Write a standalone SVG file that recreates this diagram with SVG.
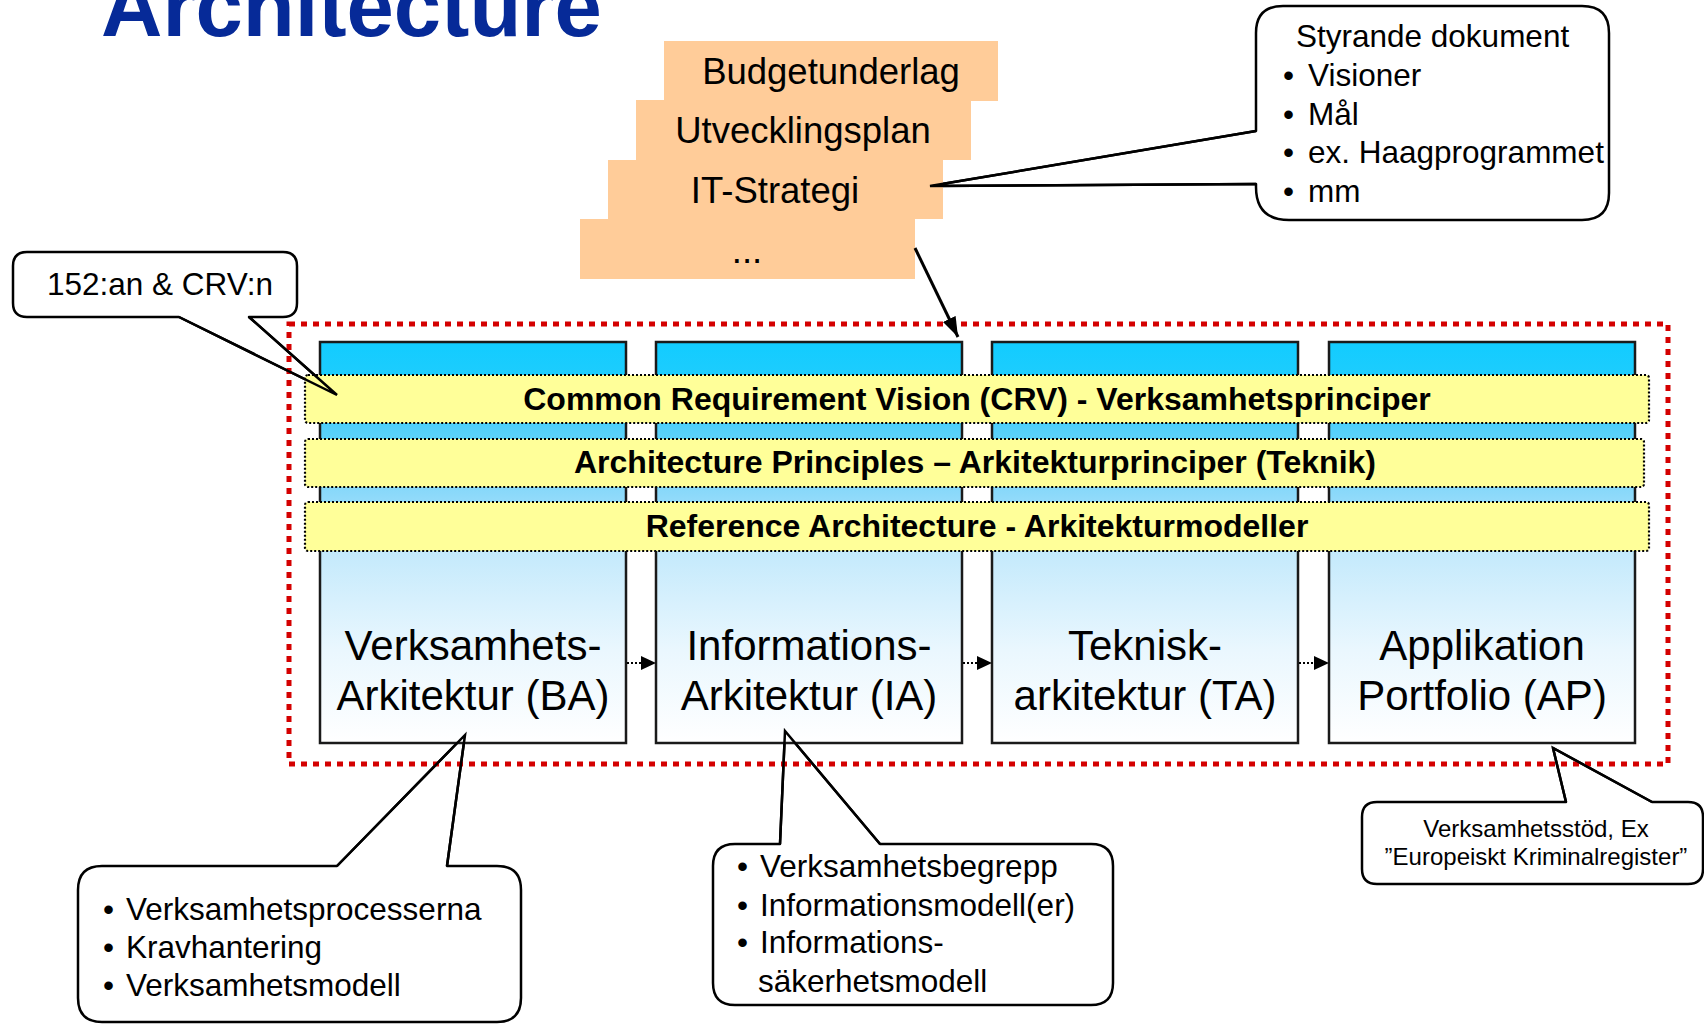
<svg xmlns="http://www.w3.org/2000/svg" width="1704" height="1024" viewBox="0 0 1704 1024">
<style>
text{font-family:"Liberation Sans",Arial,sans-serif;fill:#000}
.title{font-size:85px;font-weight:bold;fill:#062A98}
.doc{font-size:36.5px;text-anchor:middle}
.band-t{font-size:32px;font-weight:bold;text-anchor:middle}
.col-t{font-size:42px;text-anchor:middle}
.t31{font-size:31.5px}
.t24{font-size:24px;text-anchor:middle}
.callout{fill:#fff;stroke:#000;stroke-width:2.5;stroke-linejoin:round}
.ptr{fill:none;stroke:#000;stroke-width:2.5;stroke-linejoin:miter}
.orange{fill:#FFCC99}
.col{fill:url(#colGrad);stroke:#1a1a1a;stroke-width:2.5}
.band{fill:#FFFF99;stroke:#000;stroke-width:2.2;stroke-dasharray:2 2}
.frame{fill:none;stroke:#D40000;stroke-width:5;stroke-dasharray:6 6}
.dotline{stroke:#000;stroke-width:2;stroke-dasharray:2 2;fill:none}
</style>
<defs>
<linearGradient id="colGrad" gradientUnits="userSpaceOnUse" x1="0" y1="342" x2="0" y2="743">
<stop offset="0" stop-color="#12CCFF"/>
<stop offset="0.12" stop-color="#22CDFD"/>
<stop offset="0.22" stop-color="#55D0FA"/>
<stop offset="0.38" stop-color="#8CD9FA"/>
<stop offset="0.53" stop-color="#C5EAFC"/>
<stop offset="0.77" stop-color="#EAF7FE"/>
<stop offset="1" stop-color="#FFFFFF"/>
</linearGradient>
<marker id="arrow" markerWidth="20" markerHeight="14" refX="20" refY="7" orient="auto" markerUnits="userSpaceOnUse">
<path d="M0,0 L20,7 L0,14 Z" fill="#000"/>
</marker>
</defs>

<text class="title" x="101" y="36">Architecture</text>

<!-- callouts (bodies) -->
<g id="callout-styrande">
<path class="callout" d="M1283,6 H1582 Q1609,6 1609,33 V193 Q1609,220 1582,220 H1289 Q1256,220 1256,187 V184 L930,186 L1256,131 V33 Q1256,6 1283,6 Z"/>
<text class="t31" x="1296" y="47">Styrande dokument</text>
<text class="t31" x="1283" y="86">•</text><text class="t31" x="1308" y="86">Visioner</text>
<text class="t31" x="1283" y="125">•</text><text class="t31" x="1308" y="125">Mål</text>
<text class="t31" x="1283" y="163">•</text><text class="t31" x="1308" y="163">ex. Haagprogrammet</text>
<text class="t31" x="1283" y="202">•</text><text class="t31" x="1308" y="202">mm</text>
</g>
<g id="callout-152">
<path class="callout" d="M27,252 H283 Q297,252 297,266 V303 Q297,317 283,317 H249 L337,395 L179,317 H27 Q13,317 13,303 V266 Q13,252 27,252 Z"/>
<text class="t31" x="47" y="295">152:an &amp; CRV:n</text>
</g>
<g id="callout-ba">
<path class="callout" d="M102,866 H337 L465,735 L447,866 H497 Q521,866 521,890 V998 Q521,1022 497,1022 H102 Q78,1022 78,998 V890 Q78,866 102,866 Z"/>
<text class="t31" x="103" y="920">•</text><text class="t31" x="126" y="920">Verksamhetsprocesserna</text>
<text class="t31" x="103" y="958">•</text><text class="t31" x="126" y="958">Kravhantering</text>
<text class="t31" x="103" y="996">•</text><text class="t31" x="126" y="996">Verksamhetsmodell</text>
</g>
<g id="callout-ia">
<path class="callout" d="M735,844 H780 L785,731 L880,844 H1091 Q1113,844 1113,866 V983 Q1113,1005 1091,1005 H735 Q713,1005 713,983 V866 Q713,844 735,844 Z"/>
<text class="t31" x="737" y="877">•</text><text class="t31" x="760" y="877">Verksamhetsbegrepp</text>
<text class="t31" x="737" y="916">•</text><text class="t31" x="760" y="916">Informationsmodell(er)</text>
<text class="t31" x="737" y="953">•</text><text class="t31" x="760" y="953">Informations-</text>
<text class="t31" x="758" y="992">säkerhetsmodell</text>
</g>
<g id="callout-ap">
<path class="callout" d="M1377,802 H1566 L1553,748 L1652,802 H1688 Q1703,802 1703,817 V869 Q1703,884 1688,884 H1377 Q1362,884 1362,869 V817 Q1362,802 1377,802 Z"/>
<text class="t24" x="1536" y="837">Verksamhetsstöd, Ex</text>
<text class="t24" x="1536" y="865">”Europeiskt Kriminalregister”</text>
</g>

<!-- planning documents -->
<g id="doc-budget">
<rect class="orange" x="664" y="41" width="334" height="60"/>
<text class="doc" x="831" y="84">Budgetunderlag</text>
</g>
<g id="doc-utveckling">
<rect class="orange" x="636" y="100" width="335" height="60"/>
<text class="doc" x="803" y="143">Utvecklingsplan</text>
</g>
<g id="doc-it">
<rect class="orange" x="608" y="160" width="335" height="59"/>
<text class="doc" x="775" y="203">IT-Strategi</text>
</g>
<g id="doc-more">
<rect class="orange" x="580" y="219" width="335" height="60"/>
<text class="doc" x="747" y="263">...</text>
</g>

<!-- architecture frame -->
<g id="frame">
<rect class="frame" x="289" y="324" width="1379" height="440"/>
</g>
<g id="col-ba">
<rect class="col" x="320" y="342" width="306" height="401"/>
<text class="col-t" x="473" y="660">Verksamhets-</text>
<text class="col-t" x="473" y="710">Arkitektur (BA)</text>
</g>
<g id="col-ia">
<rect class="col" x="656" y="342" width="306" height="401"/>
<text class="col-t" x="809" y="660">Informations-</text>
<text class="col-t" x="809" y="710">Arkitektur (IA)</text>
</g>
<g id="col-ta">
<rect class="col" x="992" y="342" width="306" height="401"/>
<text class="col-t" x="1145" y="660">Teknisk-</text>
<text class="col-t" x="1145" y="710">arkitektur (TA)</text>
</g>
<g id="col-ap">
<rect class="col" x="1329" y="342" width="306" height="401"/>
<text class="col-t" x="1482" y="660">Applikation</text>
<text class="col-t" x="1482" y="710">Portfolio (AP)</text>
</g>
<g id="band-crv">
<rect class="band" x="305" y="375" width="1344" height="48" rx="3"/>
<text class="band-t" x="977" y="410">Common Requirement Vision (CRV) - Verksamhetsprinciper</text>
</g>
<g id="band-ap">
<rect class="band" x="305" y="439" width="1339" height="48" rx="3"/>
<text class="band-t" x="975" y="473">Architecture Principles – Arkitekturprinciper (Teknik)</text>
</g>
<g id="band-ra">
<rect class="band" x="305" y="502" width="1344" height="49" rx="3"/>
<text class="band-t" x="977" y="537">Reference Architecture - Arkitekturmodeller</text>
</g>

<!-- connectors -->
<g id="connectors">
<line class="dotline" x1="627" y1="663" x2="642" y2="663"/>
<path d="M641,656 L656,663 L641,670 Z" fill="#000"/>
<line class="dotline" x1="963" y1="663" x2="978" y2="663"/>
<path d="M977,656 L992,663 L977,670 Z" fill="#000"/>
<line class="dotline" x1="1299" y1="663" x2="1315" y2="663"/>
<path d="M1314,656 L1329,663 L1314,670 Z" fill="#000"/>
<line x1="915" y1="248" x2="958" y2="337" stroke="#000" stroke-width="3" marker-end="url(#arrow)"/>
<path class="ptr" d="M1256,131 L930,186 L1256,184"/>
<path class="ptr" d="M179,317 L337,395 L249,317"/>
<path class="ptr" d="M337,866 L465,735 L447,866"/>
<path class="ptr" d="M780,844 L785,731 L880,844"/>
<path class="ptr" d="M1566,802 L1553,748 L1652,802"/>
</g>
</svg>
